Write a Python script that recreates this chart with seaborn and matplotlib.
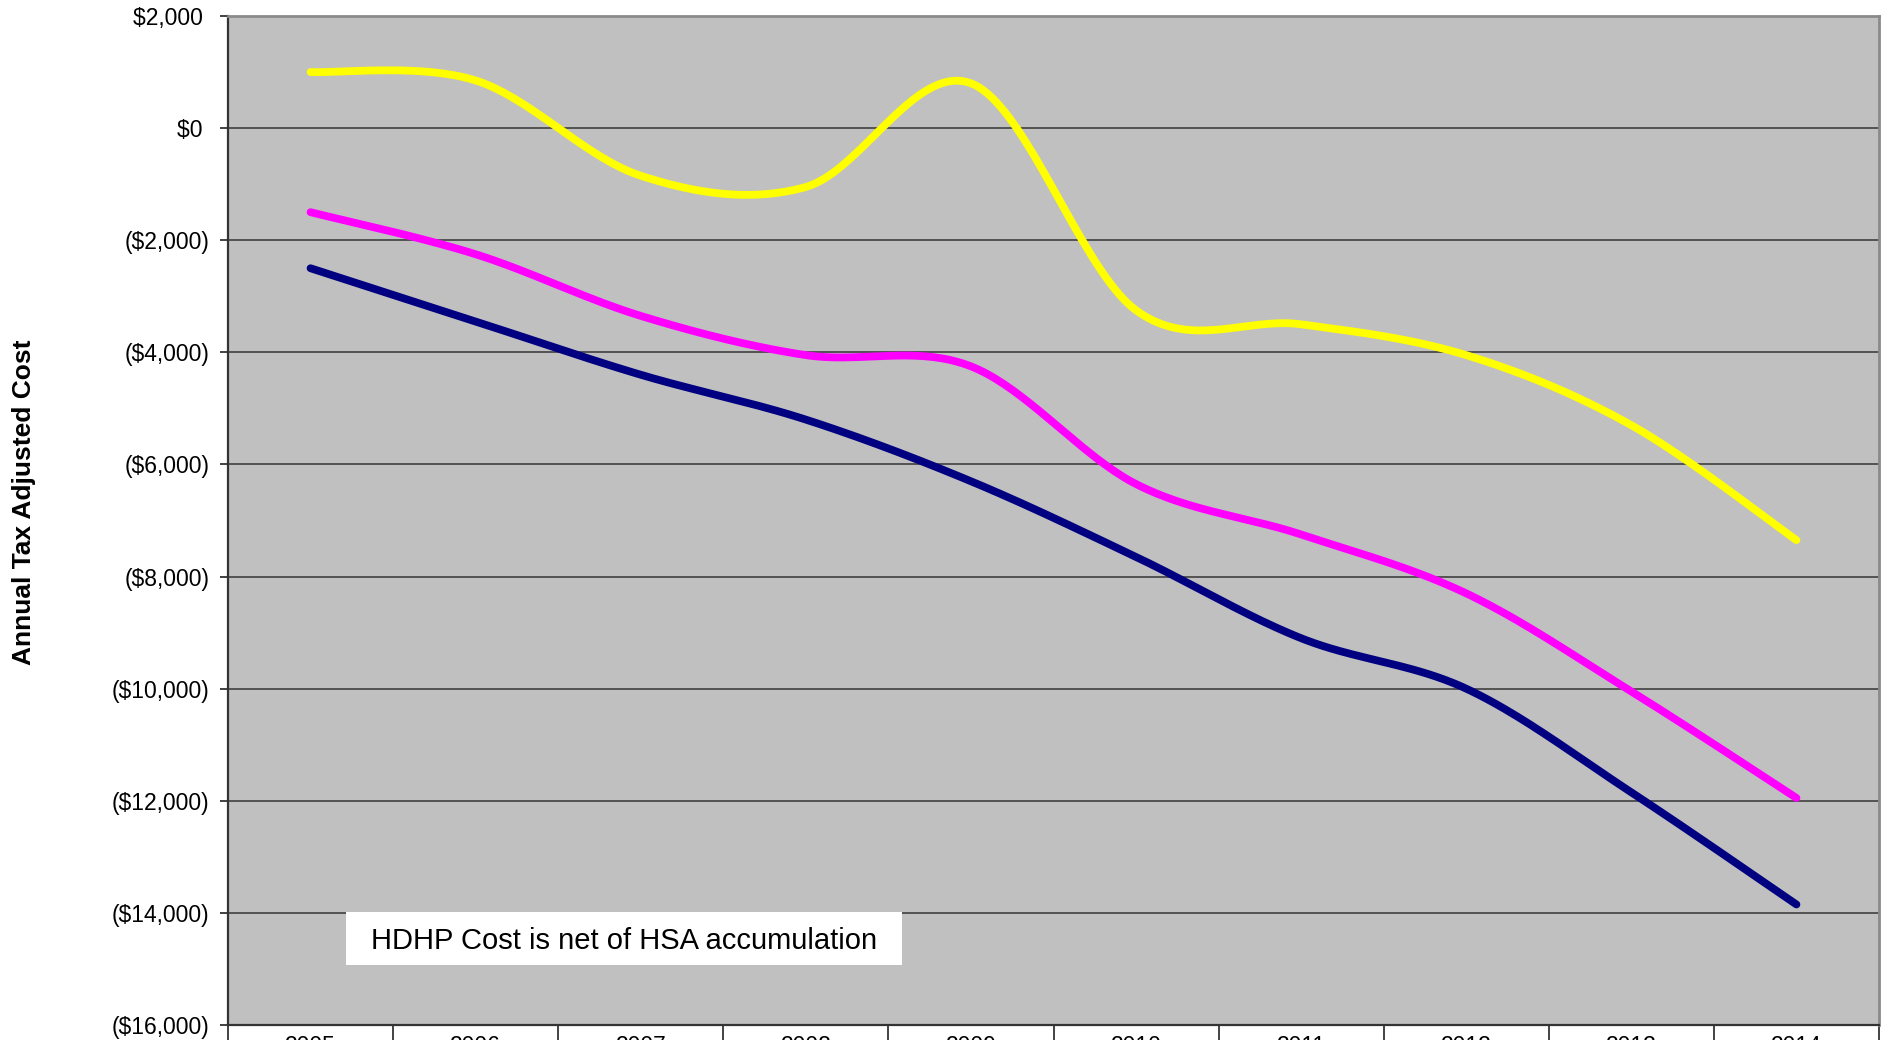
import numpy as np
import pandas as pd
import matplotlib
matplotlib.use("Agg")
import matplotlib.pyplot as plt
from matplotlib.patches import Rectangle
from matplotlib.ticker import FixedLocator, FuncFormatter
import seaborn as sns

# values (annual tax adjusted cost, $)
years = ["2005", "2006", "2007", "2008", "2009", "2010", "2011", "2012", "2013", "2014"]
cost_yellow = [1000, 850, -850, -1050, 800, -3250, -3500, -4050, -5300, -7350]
cost_magenta = [-1500, -2250, -3350, -4050, -4250, -6350, -7250, -8300, -10050, -11950]
cost_navy = [-2500, -3450, -4400, -5200, -6300, -7650, -9100, -10000, -11850, -13850]

y_ticks = list(range(-16000, 2001, 2000))
note = "HDHP Cost is net of HSA accumulation"


def smooth(vals, n=40):
    # Excel-style smoothed line (Catmull-Rom through every point)
    p = np.asarray(vals, dtype=float)
    x = np.arange(len(p), dtype=float)
    pp = np.concatenate([[p[0]], p, [p[-1]]])
    xx = np.concatenate([[x[0]], x, [x[-1]]])
    out_x, out_y = [], []
    t = np.linspace(0, 1, n)
    for i in range(len(p) - 1):
        for src, dst in ((xx, out_x), (pp, out_y)):
            p0, p1, p2, p3 = src[i], src[i + 1], src[i + 2], src[i + 3]
            c1 = p1 + (p2 - p0) / 6
            c2 = p2 - (p3 - p1) / 6
            b = ((1 - t) ** 3 * p1 + 3 * (1 - t) ** 2 * t * c1
                 + 3 * (1 - t) * t ** 2 * c2 + t ** 3 * p2)
            dst.extend(b if i == 0 else b[1:])
    return np.array(out_x), np.array(out_y)


sns.set_style("white")
plt.rcParams["font.family"] = ["Liberation Sans", "DejaVu Sans"]
plt.rcParams["text.color"] = "black"
plt.rcParams["xtick.color"] = "black"
plt.rcParams["ytick.color"] = "black"

fig = plt.figure(figsize=(18.85, 10.40), dpi=100)
ax = fig.add_axes([228 / 1885, 1 - 1025 / 1040, (1879 - 228) / 1885, (1025 - 16) / 1040])
ax.set_facecolor("#C0C0C0")

for vals, col in [(cost_yellow, "#FFFF00"), (cost_magenta, "#FF00FF"), (cost_navy, "#000080")]:
    sx, sy = smooth(vals)
    df = pd.DataFrame({"x": sx, "y": sy})
    sns.lineplot(data=df, x="x", y="y", ax=ax, color=col, lw=5.6, sort=False,
                 solid_capstyle="round", zorder=3)

ax.set_xlim(-0.5, len(years) - 0.5)
ax.set_ylim(y_ticks[0], y_ticks[-1])

ax.set_yticks(y_ticks)


def money(v, pos):
    if v < 0:
        return "(${:,.0f})".format(-v)
    return "${:,.0f} ".format(v)


ax.yaxis.set_major_formatter(FuncFormatter(money))
ax.yaxis.grid(True, color="#4a4a4a", lw=1.3, zorder=1)
ax.xaxis.grid(False)
ax.set_axisbelow(True)

ax.set_xticks(range(len(years)))
ax.set_xticklabels(years)
ax.xaxis.set_minor_locator(FixedLocator(np.arange(-0.5, len(years), 1.0)))
ax.tick_params(axis="x", which="major", length=0, pad=7, labelsize=16.5, labelcolor="black")
ax.tick_params(axis="x", which="minor", length=20, width=1.2, color="#222222", bottom=True)
ax.tick_params(axis="y", which="major", length=5.5, width=1.3, color="#333333",
               pad=8, labelsize=16.5, left=True, labelcolor="black")
ax.set_xlabel("")
ax.set_ylabel("")

for side in ["left", "bottom"]:
    ax.spines[side].set_color("#333333")
    ax.spines[side].set_linewidth(1.6)
for side in ["top", "right"]:
    ax.spines[side].set_color("#8a8a8a")
    ax.spines[side].set_linewidth(2)

fig.text(24 / 1885, 1 - 502 / 1040, "Annual Tax Adjusted Cost", rotation=90,
         ha="center", va="center", fontsize=19, fontweight="bold", color="black")

ax.add_patch(Rectangle((346 / 1885, 1 - 965 / 1040), 556 / 1885, 53 / 1040,
                       transform=fig.transFigure, facecolor="white",
                       edgecolor="none", zorder=5, clip_on=False))
ax.text(624 / 1885, 1 - 949 / 1040, note, transform=fig.transFigure,
        ha="center", va="baseline", fontsize=21, zorder=6, color="black")

fig.savefig("out.png", dpi=100)
